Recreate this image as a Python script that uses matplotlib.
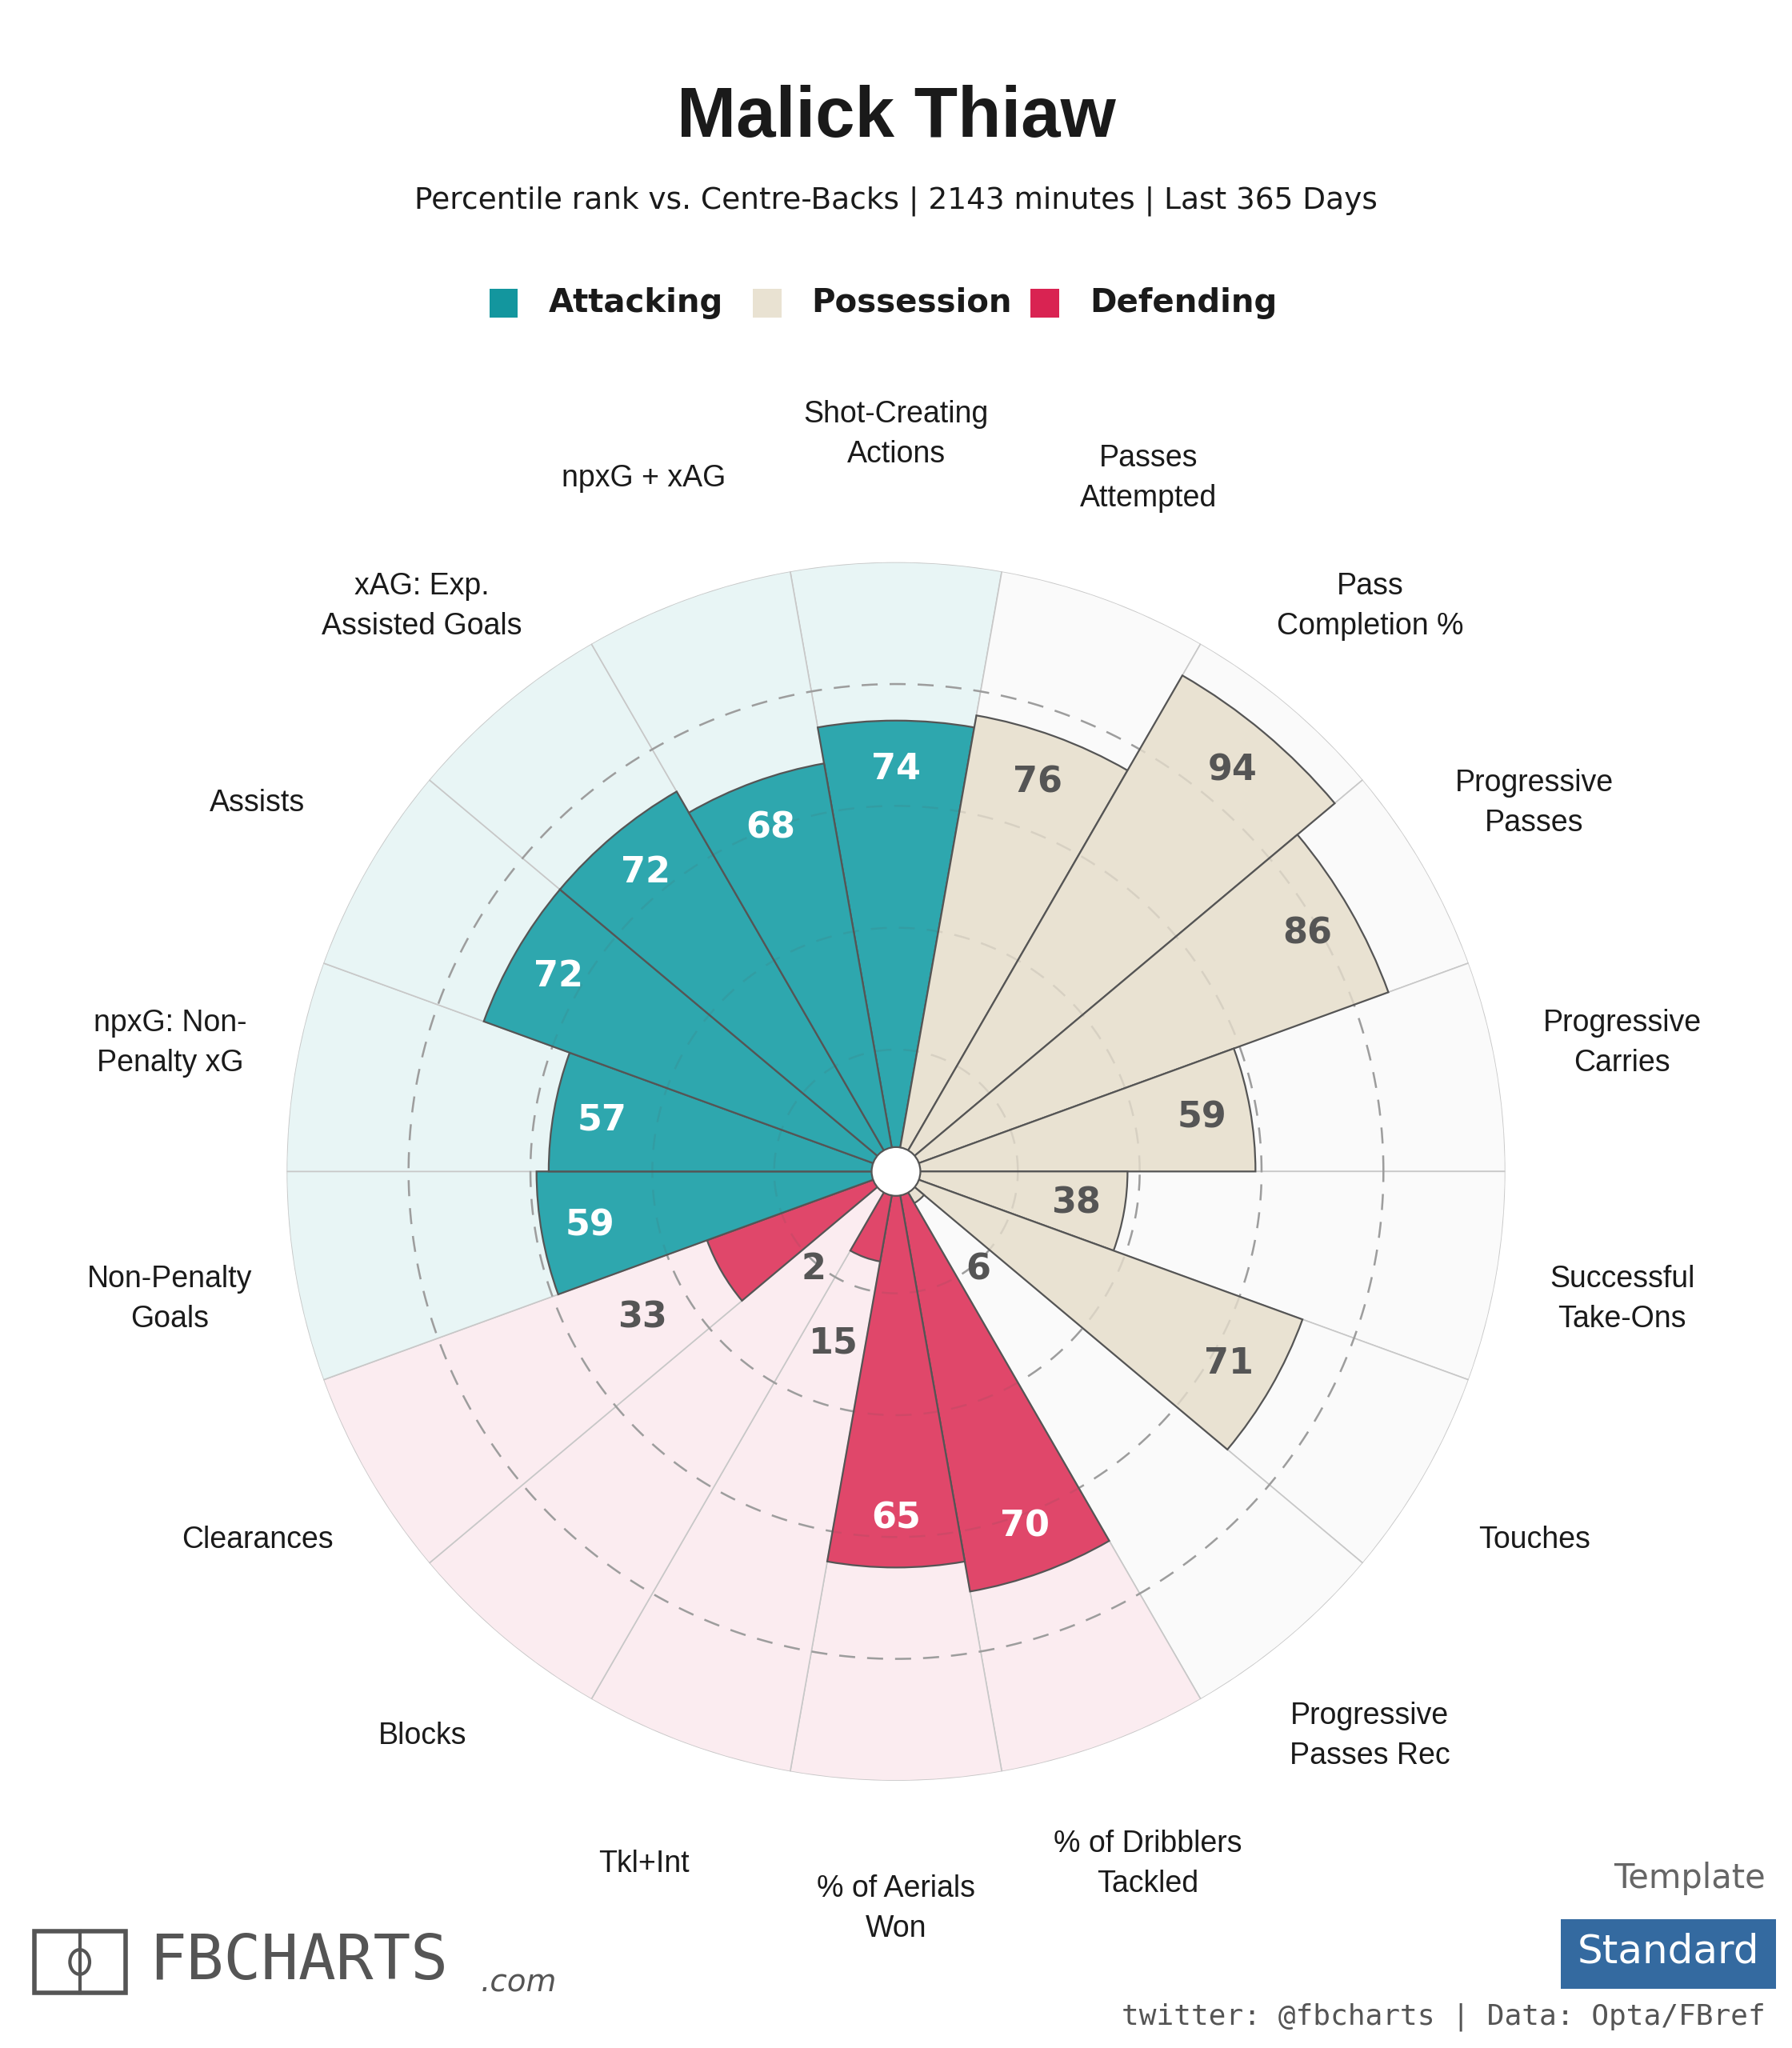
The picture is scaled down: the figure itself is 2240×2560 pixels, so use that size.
import numpy as np
import matplotlib.pyplot as plt
from matplotlib.patches import Rectangle, Circle, Ellipse

labels = ["Shot-Creating\nActions", "Passes\nAttempted", "Pass\nCompletion %", "Progressive\nPasses",
          "Progressive\nCarries", "Successful\nTake-Ons", "Touches", "Progressive\nPasses Rec",
          "% of Dribblers\nTackled", "% of Aerials\nWon", "Tkl+Int", "Blocks", "Clearances",
          "Non-Penalty\nGoals", "npxG: Non-\nPenalty xG", "Assists", "xAG: Exp.\nAssisted Goals",
          "npxG + xAG"]
values = [74, 76, 94, 86, 59, 38, 71, 6, 70, 65, 15, 2, 33, 59, 57, 72, 72, 68]
groups = ["att", "pos", "pos", "pos", "pos", "pos", "pos", "pos", "def", "def", "def", "def", "def",
          "att", "att", "att", "att", "att"]

bar_col = {"att": "#2ea7ae", "pos": "#e9e2d2", "def": "#e0476a"}
bg_col = {"att": "#e8f5f5", "pos": "#fafafa", "def": "#fbecf0"}
txt_col = {"att": "white", "pos": "#555555", "def": "white"}

n = len(values)
theta = np.deg2rad(90 - 20 * np.arange(n))
width = np.deg2rad(20)

fig = plt.figure(figsize=(11.2, 12.8), dpi=200)
fig.patch.set_facecolor("white")

ax = fig.add_axes([0.5 - 0.34, 0.428 - 0.299, 0.68, 0.598], projection="polar")
ax.set_ylim(0, 100)
ax.axis("off")

ax.bar(theta, [100] * n, width=width, color=[bg_col[g] for g in groups],
       edgecolor="#c8c8c8", linewidth=0.6, zorder=1)
ring_t = np.linspace(0, 2 * np.pi, 400)
for r in [20, 40, 60, 80]:
    ax.plot(ring_t, [r] * 400, color="#a8a8a8", lw=0.9, ls=(0, (8, 6)), zorder=2)
ax.bar(theta, values, width=width, color=[bar_col[g] for g in groups],
       edgecolor="#555555", linewidth=0.8, zorder=3)
for r in [20, 40, 60, 80]:
    ax.plot(ring_t, [r] * 400, color="#555555", alpha=0.12, lw=0.9, ls=(0, (8, 6)), zorder=4)
ax.add_patch(Circle((0, 0), 4, transform=ax.transData._b, facecolor="white",
                    edgecolor="#555555", lw=0.8, zorder=6))

for t, v, g, lab in zip(theta, values, groups, labels):
    if v >= 36:
        ax.text(t, v - 8, str(v), ha="center", va="center", fontsize=16, fontweight="bold",
                color=txt_col[g], zorder=7)
    else:
        ax.text(t, max(v + 15, 21), str(v), ha="center", va="center", fontsize=16,
                fontweight="bold", color="#555555", zorder=7)
    ax.text(t, 121, lab, ha="center", va="center", fontsize=13.5, color="#1a1a1a",
            family="Liberation Sans", linespacing=1.5, clip_on=False)

fig.text(0.5, 0.942, "Malick Thiaw", ha="center", va="center", fontsize=32,
         fontweight="bold", color="#1a1a1a", family="Liberation Sans")
fig.text(0.5, 0.902, "Percentile rank vs. Centre-Backs | 2143 minutes | Last 365 Days",
         ha="center", va="center", fontsize=13.5, color="#1a1a1a")

leg = [("Attacking", "#13969e", 0.281), ("Possession", "#e9e2d2", 0.428), ("Defending", "#d92352", 0.583)]
for name, c, x in leg:
    fig.patches.append(Rectangle((x - 0.008, 0.845), 0.016, 0.014, transform=fig.transFigure,
                                 facecolor=c, edgecolor="none"))
    fig.text(x + 0.025, 0.852, name, ha="left", va="center",
             fontsize=14.5, fontweight="bold", color="#1a1a1a")

# footer
fig.patches.append(Rectangle((0.019, 0.027), 0.051, 0.03, transform=fig.transFigure,
                             facecolor="none", edgecolor="#555555", lw=2))
fig.lines.append(plt.Line2D([0.0445, 0.0445], [0.027, 0.057], transform=fig.transFigure,
                            color="#555555", lw=1.5))
fig.patches.append(Ellipse((0.0445, 0.042), 0.011, 0.012, transform=fig.transFigure,
                           facecolor="none", edgecolor="#555555", lw=1.5))
fig.text(0.083, 0.042, "FBCHARTS", ha="left", va="center", fontsize=28, color="#555555",
         family="DejaVu Sans Mono")
fig.text(0.268, 0.032, ".com", ha="left", va="center", fontsize=14, color="#555555",
         style="italic")
fig.text(0.985, 0.083, "Template", ha="right", va="center", fontsize=15, color="#666666")
fig.patches.append(Rectangle((0.871, 0.029), 0.12, 0.034, transform=fig.transFigure,
                             facecolor="#346aa0", edgecolor="none"))
fig.text(0.931, 0.047, "Standard", ha="center", va="center", fontsize=18, color="white")
fig.text(0.985, 0.015, "twitter: @fbcharts | Data: Opta/FBref", ha="right", va="center",
         fontsize=13, color="#555555", family="DejaVu Sans Mono")

fig.savefig("out.png", dpi=200, facecolor="white")
